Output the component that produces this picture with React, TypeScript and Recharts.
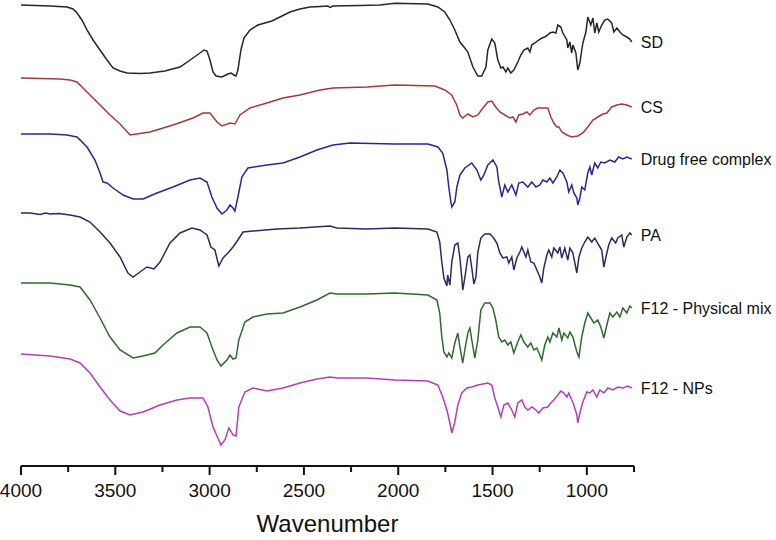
import { LineChart, Line, XAxis, YAxis } from "recharts";

// FTIR spectra, wavenumber (cm-1) vs stacked transmittance (a.u.)
const SD: [number, number][] = [
  [4000, 461], [3846, 460], [3756, 459], [3724, 457], [3703, 453], [3677, 446], [3650, 436], [3618, 426],
  [3581, 416], [3544, 406], [3512, 398], [3475, 395], [3438, 393], [3369, 392.5], [3316, 393], [3237, 395],
  [3157, 399], [3088, 408], [3051, 413], [3030, 416], [3014, 415], [2998, 406], [2982, 394], [2966, 390],
  [2935, 389], [2903, 392], [2887, 393], [2871, 391], [2860, 390], [2850, 396], [2834, 416], [2818, 428],
  [2786, 436], [2744, 441], [2707, 443], [2670, 445], [2627, 449], [2574, 454], [2521, 457], [2468, 459],
  [2415, 459.5], [2373, 460], [2362, 458.5], [2346, 460], [2203, 460.5], [2097, 461], [2018, 462.7],
  [1843, 462], [1790, 459], [1753, 454], [1726, 446], [1700, 436], [1673, 424], [1647, 418], [1631, 414],
  [1604, 399], [1578, 390], [1557, 390], [1535, 399], [1525, 416], [1504, 427], [1488, 423], [1472, 406],
  [1456, 398], [1445, 399], [1429, 394], [1419, 398], [1403, 393], [1387, 396], [1366, 404], [1350, 411],
  [1334, 416], [1313, 418], [1302, 414], [1292, 421], [1276, 423], [1255, 426], [1239, 428], [1223, 429],
  [1207, 431], [1196, 433], [1180, 434], [1164, 433], [1154, 441], [1138, 439], [1127, 433], [1106, 426],
  [1101, 418], [1090, 424], [1080, 413], [1074, 421], [1058, 413], [1048, 396], [1037, 403], [1027, 416],
  [1021, 423], [1005, 434], [995, 449], [979, 441], [968, 448], [958, 433], [947, 443], [937, 434],
  [921, 441], [905, 446], [889, 447], [868, 443], [857, 434], [841, 438], [825, 434], [809, 431],
  [788, 429], [772, 427], [762, 424],
];

const CS: [number, number][] = [
  [4000, 388], [3793, 387], [3740, 386], [3703, 384], [3677, 379], [3634, 371], [3581, 361], [3528, 351],
  [3475, 342], [3422, 331], [3316, 334], [3194, 341], [3088, 348], [3035, 353], [2998, 353], [2961, 344],
  [2935, 340], [2892, 343], [2866, 342], [2839, 351], [2786, 358], [2696, 363], [2611, 368], [2521, 371],
  [2415, 376], [2346, 378], [2166, 379], [2018, 381], [1806, 380], [1753, 376], [1717, 371], [1690, 361],
  [1673, 351], [1658, 348], [1631, 352], [1604, 349], [1578, 351], [1551, 358], [1525, 364], [1504, 365],
  [1483, 359], [1461, 354], [1435, 351], [1408, 348], [1392, 349], [1376, 344], [1361, 351], [1339, 352],
  [1318, 354], [1302, 351], [1281, 356], [1260, 358], [1233, 358], [1207, 358], [1191, 349], [1175, 343],
  [1159, 339], [1148, 339], [1133, 334], [1106, 331], [1080, 329], [1048, 330], [1021, 333], [995, 339],
  [968, 346], [942, 349], [915, 352], [894, 353], [868, 359], [841, 361], [815, 362], [788, 361], [762, 359],
];

const DRUG_FREE: [number, number][] = [
  [4000, 332], [3846, 332], [3756, 331], [3703, 329], [3650, 319], [3608, 306], [3581, 293], [3565, 284],
  [3544, 283], [3512, 278], [3459, 271], [3406, 267], [3353, 267], [3279, 273], [3194, 279], [3104, 286],
  [3051, 288], [3014, 284], [2988, 269], [2961, 258], [2935, 252], [2908, 256], [2892, 261], [2876, 258],
  [2866, 255], [2850, 269], [2829, 289], [2797, 298], [2696, 301], [2611, 303], [2521, 309], [2431, 316],
  [2346, 321], [2256, 323], [2018, 322], [1843, 322], [1790, 319], [1764, 313], [1742, 296], [1732, 279],
  [1721, 264], [1716, 259], [1700, 264], [1689, 279], [1673, 291], [1647, 298], [1610, 303], [1583, 296],
  [1562, 286], [1546, 291], [1525, 301], [1498, 306], [1477, 299], [1467, 284], [1456, 274], [1451, 269],
  [1435, 281], [1419, 274], [1398, 281], [1376, 271], [1361, 283], [1339, 284], [1313, 279], [1292, 284],
  [1270, 279], [1249, 281], [1233, 286], [1212, 284], [1196, 288], [1180, 283], [1159, 289], [1143, 296],
  [1127, 293], [1106, 284], [1096, 274], [1080, 281], [1069, 273], [1053, 268], [1048, 261], [1037, 268],
  [1027, 279], [1011, 276], [995, 293], [984, 299], [974, 291], [958, 303], [942, 298], [926, 304],
  [905, 303], [878, 306], [852, 304], [831, 309], [809, 307], [788, 309], [762, 307],
];

const PA: [number, number][] = [
  [4000, 253], [3952, 253], [3899, 251.5], [3870, 253], [3846, 252], [3799, 252.5], [3740, 251], [3687, 249],
  [3634, 244], [3581, 234], [3528, 223], [3475, 209], [3433, 193], [3406, 189], [3369, 194], [3332, 199],
  [3295, 197], [3263, 204], [3210, 223], [3157, 233], [3094, 238], [3051, 236], [3014, 231], [2993, 219],
  [2972, 216], [2951, 200], [2929, 208], [2903, 213], [2876, 219], [2850, 226], [2823, 234], [2770, 235],
  [2643, 237], [2521, 238], [2362, 240], [2325, 238], [2166, 237], [2018, 238], [1843, 237], [1795, 234],
  [1780, 224], [1769, 204], [1758, 188], [1742, 180], [1738, 191], [1726, 181], [1716, 204], [1700, 221],
  [1684, 223], [1673, 208], [1663, 188], [1658, 176], [1647, 188], [1631, 209], [1620, 211], [1610, 198],
  [1599, 182], [1588, 189], [1578, 214], [1562, 228], [1541, 232], [1514, 232], [1498, 229], [1477, 223],
  [1461, 213], [1445, 208], [1424, 209], [1414, 203], [1398, 209], [1387, 196], [1371, 208], [1355, 214],
  [1345, 219], [1323, 209], [1313, 216], [1297, 204], [1281, 203], [1265, 196], [1249, 189], [1239, 183],
  [1228, 198], [1212, 211], [1202, 216], [1186, 209], [1175, 218], [1154, 213], [1143, 219], [1133, 208],
  [1117, 218], [1101, 206], [1090, 218], [1074, 213], [1053, 193], [1042, 209], [1027, 218], [1011, 224],
  [995, 229], [974, 224], [958, 228], [937, 221], [921, 216], [910, 199], [894, 213], [884, 221],
  [868, 228], [847, 223], [836, 228], [815, 231], [804, 219], [788, 229], [772, 233], [762, 231],
];

const F12_PHYSICAL: [number, number][] = [
  [4000, 183], [3846, 183], [3740, 181], [3687, 179], [3634, 166], [3581, 148], [3528, 129], [3475, 116],
  [3406, 108], [3353, 110], [3290, 113], [3247, 121], [3173, 133], [3104, 139], [3051, 139], [3014, 133],
  [2988, 119], [2961, 106], [2940, 100], [2908, 106], [2892, 111], [2876, 107], [2860, 108], [2845, 126],
  [2813, 144], [2770, 149], [2696, 152], [2611, 153], [2521, 159], [2431, 166], [2362, 173], [2325, 172],
  [2166, 172], [2018, 173], [1843, 171], [1795, 166], [1780, 153], [1769, 129], [1758, 114], [1742, 109],
  [1732, 113], [1716, 108], [1700, 123], [1684, 133], [1673, 119], [1658, 103], [1647, 116], [1631, 133],
  [1620, 138], [1610, 126], [1594, 108], [1578, 126], [1562, 156], [1541, 163], [1514, 163], [1498, 158],
  [1483, 146], [1467, 129], [1451, 124], [1435, 126], [1419, 121], [1403, 124], [1387, 113], [1366, 124],
  [1350, 131], [1334, 124], [1313, 119], [1297, 123], [1281, 116], [1265, 118], [1249, 111], [1239, 106],
  [1223, 121], [1207, 129], [1196, 124], [1180, 133], [1159, 129], [1148, 138], [1133, 126], [1122, 133],
  [1101, 128], [1090, 134], [1074, 129], [1053, 114], [1042, 109], [1027, 129], [1011, 143], [995, 153],
  [979, 148], [963, 143], [942, 146], [926, 139], [910, 128], [894, 141], [878, 153], [862, 149],
  [841, 154], [825, 149], [809, 158], [788, 153], [772, 160], [762, 158],
];

const F12_NPS: [number, number][] = [
  [4000, 112], [3846, 110], [3740, 107], [3687, 103], [3634, 93], [3581, 79], [3528, 66], [3475, 55],
  [3422, 51], [3353, 54], [3263, 61], [3173, 66], [3104, 68], [3035, 68], [3009, 59], [2982, 39],
  [2940, 21], [2919, 26], [2898, 38], [2876, 31], [2860, 30], [2845, 59], [2813, 74], [2770, 78],
  [2696, 75], [2611, 78], [2521, 83], [2431, 87], [2362, 89], [2325, 88], [2166, 88], [2018, 86],
  [1843, 85], [1790, 81], [1764, 69], [1742, 56], [1726, 43], [1716, 33], [1700, 44], [1684, 61],
  [1663, 73], [1636, 78], [1610, 79], [1578, 81], [1551, 82], [1525, 83], [1504, 81], [1488, 68],
  [1472, 59], [1456, 49], [1440, 61], [1419, 63], [1398, 56], [1382, 49], [1366, 63], [1345, 66],
  [1329, 59], [1313, 56], [1292, 59], [1270, 56], [1255, 53], [1233, 58], [1207, 59], [1191, 63],
  [1175, 66], [1154, 71], [1138, 75], [1122, 73], [1106, 69], [1096, 73], [1080, 66], [1069, 61],
  [1053, 51], [1048, 43], [1037, 53], [1021, 64], [1000, 74], [984, 73], [968, 76], [947, 69],
  [931, 76], [910, 73], [889, 78], [862, 76], [836, 79], [809, 78], [783, 80], [762, 78],
];

const series = [
  { name: "SD", data: SD, color: "#262626" },
  { name: "CS", data: CS, color: "#a13b3b" },
  { name: "Drug free complex", data: DRUG_FREE, color: "#29298c" },
  { name: "PA", data: PA, color: "#2b2b5e" },
  { name: "F12 - Physical mix", data: F12_PHYSICAL, color: "#2f6a2f" },
  { name: "F12 - NPs", data: F12_NPS, color: "#b23fb5" },
];

const xTicks = [4000, 3750, 3500, 3250, 3000, 2750, 2500, 2250, 2000, 1750, 1500, 1250, 1000, 750];

const FONT = "'Liberation Sans', Arial, Helvetica, sans-serif";

function WaveTick({ x, y, payload }: any) {
  const major = payload.value % 500 === 0;
  return (
    <g>
      <line x1={x} x2={x} y1={y} y2={y + (major ? 9 : 6)} stroke="#111" strokeWidth={2} />
      {major && (
        <text x={x} y={y + 31} textAnchor="middle" fontSize={19} fill="#111" fontFamily={FONT}>
          {payload.value}
        </text>
      )}
    </g>
  );
}

function endLabel(name: string, count: number) {
  return (props: any) => {
    if (props.index !== count - 1) return null;
    return (
      <text
        x={props.x + 9}
        y={props.y}
        dominantBaseline="central"
        fontSize={16}
        fill="#111"
        fontFamily={FONT}
      >
        {name}
      </text>
    );
  };
}

export default function App() {
  return (
    <div style={{ position: "absolute", left: 0, top: 0, background: "#fff" }}>
      <LineChart width={776} height={540} margin={{ top: 0, right: 142, left: 21, bottom: 0 }}>
        <XAxis
          type="number"
          dataKey="wn"
          domain={[750, 4000]}
          reversed
          ticks={xTicks}
          interval={0}
          height={74}
          tickSize={0}
          tickMargin={0}
          tickLine={false}
          axisLine={{ stroke: "#111", strokeWidth: 2 }}
          tick={<WaveTick />}
          label={{
            value: "Wavenumber",
            position: "insideBottom",
            offset: 8,
            fontSize: 24,
            fill: "#111",
            fontFamily: FONT,
          }}
        />
        <YAxis hide domain={[0, 466]} />
        {series.map((s) => (
          <Line
            key={s.name}
            name={s.name}
            data={s.data.map(([wn, v]) => ({ wn, v }))}
            dataKey="v"
            type="linear"
            dot={false}
            stroke={s.color}
            strokeWidth={1.5}
            isAnimationActive={false}
            label={endLabel(s.name, s.data.length)}
          />
        ))}
      </LineChart>
    </div>
  );
}
